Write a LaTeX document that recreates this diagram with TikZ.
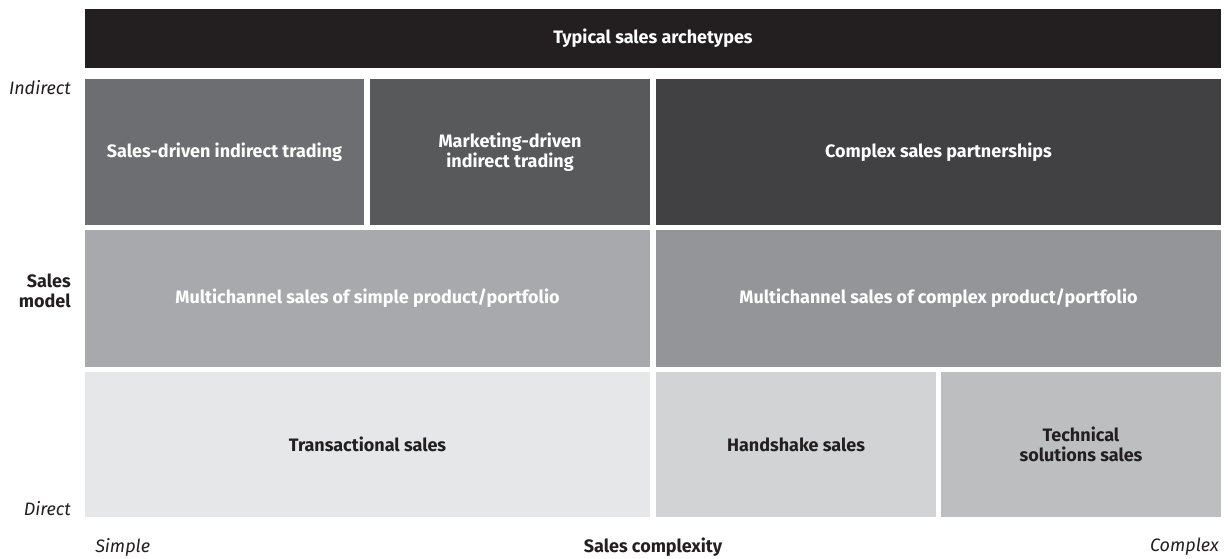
\documentclass[tikz,border=0pt]{standalone}
\usepackage{fontspec}
\setmainfont{Fira Sans}
\definecolor{ink}{RGB}{35,31,32}
\definecolor{grA}{RGB}{109,110,113}
\definecolor{grB}{RGB}{88,89,91}
\definecolor{grC}{RGB}{65,64,66}
\definecolor{grD}{RGB}{167,169,172}
\definecolor{grE}{RGB}{147,149,152}
\definecolor{grF}{RGB}{230,231,232}
\definecolor{grG}{RGB}{209,211,212}
\definecolor{grH}{RGB}{188,190,192}
\tikzset{
  cell/.style={rectangle, inner sep=0pt, outer sep=0pt, align=center, font=\fontsize{13.5}{15}\selectfont\bfseries},
  darkcell/.style={cell, text=white},
  lightcell/.style={cell, text=ink},
  axis/.style={inner sep=0pt, text=ink, font=\fontsize{13.5}{15}\selectfont\itshape},
}
\begin{document}
\begin{tikzpicture}[x=0.75pt,y=0.75pt,yscale=-1,xscale=1]
\useasboundingbox (0,0) rectangle (1228,558);

%Shape: Rectangle [title]
\node (arch) at (653,38.5) [darkcell, fill=ink, minimum width=852pt, minimum height=44.25pt] {Typical sales archetypes};
%Shape: Rectangle [row 1]
\node (sdit) at (224.5,152) [darkcell, fill=grA, minimum width=209.25pt, minimum height=109.5pt] {Sales-driven indirect trading};
\node (mdit) at (510,152) [darkcell, fill=grB, minimum width=210pt, minimum height=109.5pt] {Marketing-driven\\indirect trading};
\node (csp) at (938.5,152) [darkcell, fill=grC, minimum width=423.75pt, minimum height=109.5pt] {Complex sales partnerships};
%Shape: Rectangle [row 2]
\node (mss) at (367.5,298.5) [darkcell, fill=grD, minimum width=423.75pt, minimum height=102.75pt] {Multichannel sales of simple product/portfolio};
\node (msc) at (938.5,298.5) [darkcell, fill=grE, minimum width=423.75pt, minimum height=102.75pt] {Multichannel sales of complex product/portfolio};
%Shape: Rectangle [row 3]
\node (trs) at (367.5,444.5) [lightcell, fill=grF, minimum width=423.75pt, minimum height=108.75pt] {Transactional sales};
\node (hss) at (796,444.5) [lightcell, fill=grG, minimum width=210pt, minimum height=108.75pt] {Handshake sales};
\node (tss) at (1081,444.5) [lightcell, fill=grH, minimum width=210pt, minimum height=108.75pt] {Technical\\solutions sales};

% Text Node
\node (ind) at (71,88) [axis, anchor=east] {Indirect};
% Text Node
\node (smod) at (71,291) [axis, anchor=east, align=right, font=\fontsize{13.5}{15}\selectfont\bfseries] {Sales\\model};
% Text Node
\node (dir) at (71,509) [axis, anchor=east] {Direct};
% Text Node
\node (simp) at (95,547) [axis, anchor=west] {Simple};
% Text Node
\node (scx) at (653,547) [axis, font=\fontsize{13.5}{15}\selectfont\bfseries] {Sales complexity};
% Text Node
\node (cplx) at (1219,547) [axis, anchor=east] {Complex};
\end{tikzpicture}
\end{document}
